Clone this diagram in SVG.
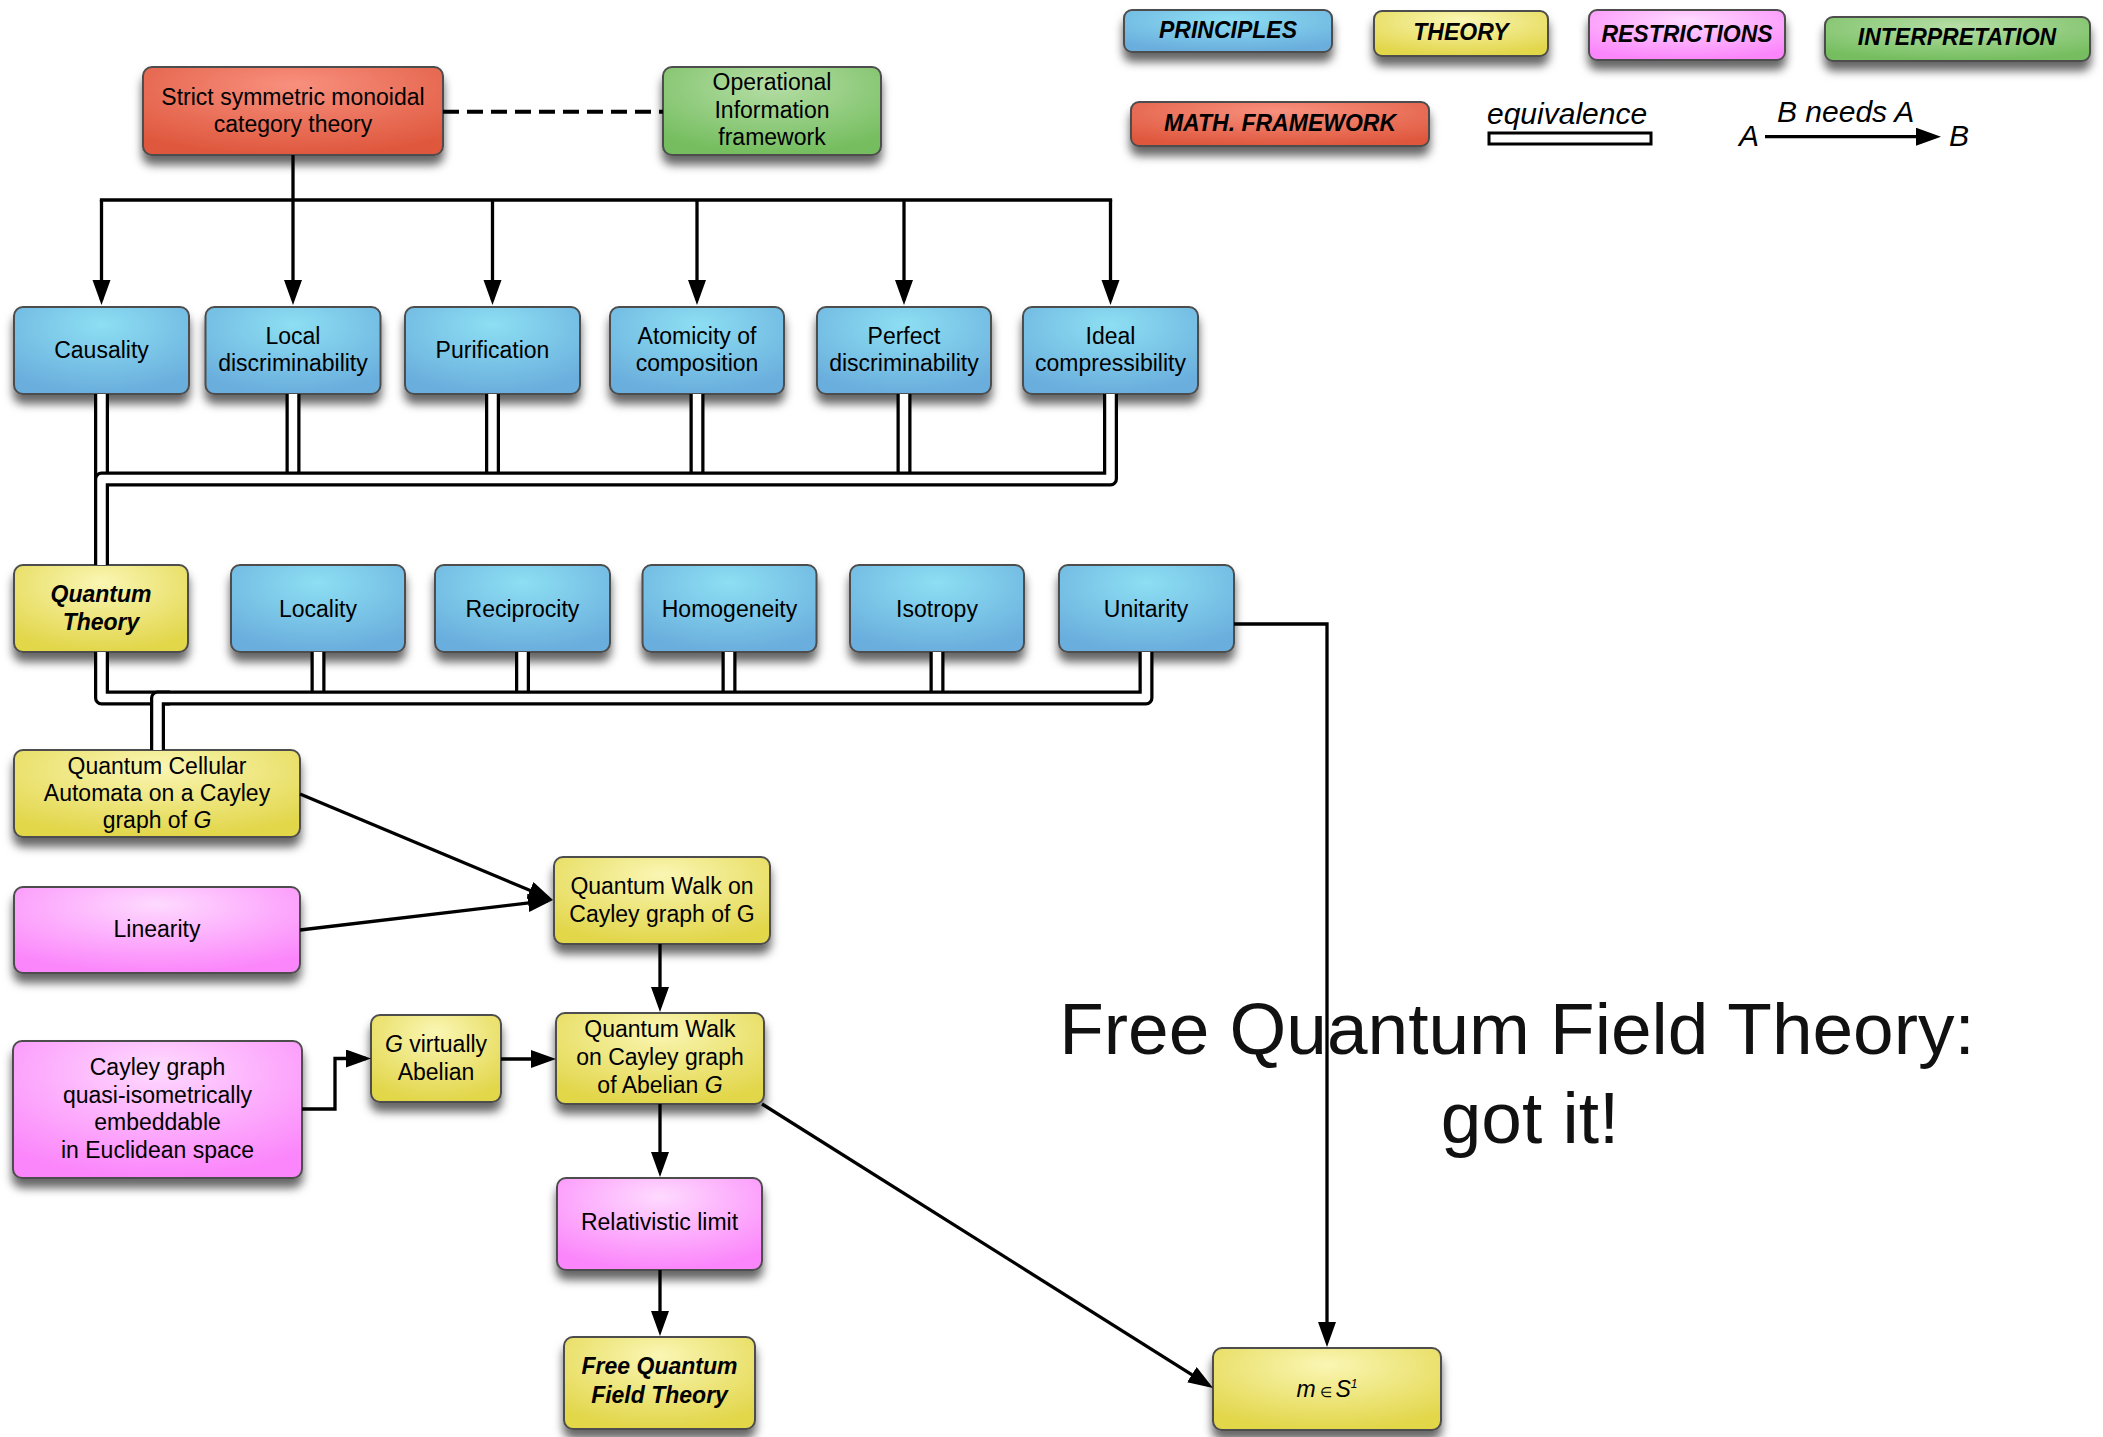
<svg xmlns="http://www.w3.org/2000/svg" xmlns:xlink="http://www.w3.org/1999/xlink" width="2103" height="1437" viewBox="0 0 2103 1437">
<defs>
  <radialGradient id="gBlue" cx="50%" cy="25%" r="75%" fx="50%" fy="20%"><stop offset="0" stop-color="#8ddff3"/><stop offset="1" stop-color="#6aaedd"/></radialGradient>
  <radialGradient id="gYel" cx="50%" cy="25%" r="75%" fx="50%" fy="20%"><stop offset="0" stop-color="#faf6b4"/><stop offset="1" stop-color="#e2d64a"/></radialGradient>
  <radialGradient id="gPink" cx="50%" cy="25%" r="75%" fx="50%" fy="20%"><stop offset="0" stop-color="#fedafe"/><stop offset="1" stop-color="#fb86fb"/></radialGradient>
  <radialGradient id="gRed" cx="50%" cy="25%" r="75%" fx="50%" fy="20%"><stop offset="0" stop-color="#f8907e"/><stop offset="1" stop-color="#df583e"/></radialGradient>
  <radialGradient id="gGreen" cx="50%" cy="25%" r="75%" fx="50%" fy="20%"><stop offset="0" stop-color="#b6dea6"/><stop offset="1" stop-color="#74bd5e"/></radialGradient>
  <filter id="sh" x="-20%" y="-30%" width="140%" height="180%">
    <feDropShadow dx="0" dy="9" stdDeviation="5" flood-color="#000" flood-opacity="0.6"/>
  </filter>
  <marker id="ah" markerUnits="userSpaceOnUse" markerWidth="26" markerHeight="20" refX="20" refY="9" orient="auto">
    <path d="M0,0 L25,9 L0,18 z" fill="#000"/>
  </marker>
  <path id="d1" d="M101.5,394 V479"/>
  <path id="d2" d="M293,394 V479"/>
  <path id="d3" d="M492.5,394 V479"/>
  <path id="d4" d="M697,394 V479"/>
  <path id="d5" d="M904,394 V479"/>
  <path id="d6" d="M1110.5,394 V479 H101.5 V565"/>
  <path id="d7" d="M318,652 V698"/>
  <path id="d8" d="M522.5,652 V698"/>
  <path id="d9" d="M729,652 V698"/>
  <path id="d10" d="M937,652 V698"/>
  <path id="d11" d="M101.5,652 V698 H170"/>
  <path id="d12" d="M1146,652 V698 H157.5 V750"/>
</defs>
<style>
  .box { stroke:#4d4d4d; stroke-width:2; filter:url(#sh); }
  .blue { fill:url(#gBlue); }
  .yel { fill:url(#gYel); }
  .pink { fill:url(#gPink); }
  .red { fill:url(#gRed); }
  .green { fill:url(#gGreen); }
  .t { font-family:"Liberation Sans", Arial, sans-serif; font-size:23px; fill:#000; text-anchor:middle; }
  .tb { font-family:"Liberation Sans", Arial, sans-serif; font-size:23px; font-weight:bold; font-style:italic; fill:#000; text-anchor:middle; }
  .lg { font-family:"Liberation Sans", Arial, sans-serif; font-size:30px; font-style:italic; fill:#000; }
  .big { font-family:"Liberation Sans", Arial, sans-serif; font-size:73px; fill:#111; text-anchor:middle; }
  .ar { fill:none; stroke:#000; stroke-width:3.3; marker-end:url(#ah); }
  .ln { fill:none; stroke:#000; stroke-width:3.3; }
  .eqo { fill:none; stroke:#000; stroke-width:15; stroke-linejoin:round; }
  .eqi { fill:none; stroke:#fff; stroke-width:8.5; stroke-linejoin:round; }
</style>
<rect width="2103" height="1437" fill="#fff"/>

<g id="legend">
  <g id="leg-principles"><rect class="box blue" x="1124" y="10" width="208" height="42" rx="8"/><text class="tb" x="1228" y="38">PRINCIPLES</text></g>
  <g id="leg-theory"><rect class="box yel" x="1374" y="11" width="174" height="45" rx="8"/><text class="tb" x="1461" y="40">THEORY</text></g>
  <g id="leg-restrictions"><rect class="box pink" x="1589" y="10" width="196" height="50" rx="8"/><text class="tb" x="1687" y="42">RESTRICTIONS</text></g>
  <g id="leg-interpretation"><rect class="box green" x="1825" y="17" width="265" height="44" rx="8"/><text class="tb" x="1957" y="45">INTERPRETATION</text></g>
  <g id="leg-math"><rect class="box red" x="1131" y="102" width="298" height="44" rx="8"/><text class="tb" x="1280" y="131">MATH. FRAMEWORK</text></g>
  <g id="leg-equivalence">
    <text class="lg" x="1487" y="124">equivalence</text>
    <rect x="1489" y="133" width="162" height="11" fill="#fff" stroke="#000" stroke-width="3"/>
  </g>
  <g id="leg-needs">
    <text class="lg" x="1777" y="122">B needs A</text>
    <text class="lg" x="1739" y="146">A</text>
    <text class="lg" x="1949" y="146">B</text>
    <path class="ar" d="M1765,136.7 H1936"/>
  </g>
</g>

<g id="nodes">
  <g id="strict"><rect class="box red" x="143" y="67" width="300" height="88" rx="9"/>
    <text class="t" x="293" y="104.5">Strict symmetric monoidal</text><text class="t" x="293" y="131.5">category theory</text></g>
  <g id="operational"><rect class="box green" x="663" y="67" width="218" height="88" rx="9"/>
    <text class="t" x="772" y="90">Operational</text><text class="t" x="772" y="117.5">Information</text><text class="t" x="772" y="145">framework</text></g>

  <g id="causality"><rect class="box blue" x="14" y="307" width="175" height="87" rx="9"/><text class="t" x="101.5" y="358">Causality</text></g>
  <g id="local-disc"><rect class="box blue" x="205.5" y="307" width="175" height="87" rx="9"/>
    <text class="t" x="293" y="343.5">Local</text><text class="t" x="293" y="371">discriminability</text></g>
  <g id="purification"><rect class="box blue" x="405" y="307" width="175" height="87" rx="9"/><text class="t" x="492.5" y="358">Purification</text></g>
  <g id="atomicity"><rect class="box blue" x="610" y="307" width="174" height="87" rx="9"/>
    <text class="t" x="697" y="343.5">Atomicity of</text><text class="t" x="697" y="371">composition</text></g>
  <g id="perfect-disc"><rect class="box blue" x="817" y="307" width="174" height="87" rx="9"/>
    <text class="t" x="904" y="343.5">Perfect</text><text class="t" x="904" y="371">discriminability</text></g>
  <g id="ideal-comp"><rect class="box blue" x="1023" y="307" width="175" height="87" rx="9"/>
    <text class="t" x="1110.5" y="343.5">Ideal</text><text class="t" x="1110.5" y="371">compressibility</text></g>

  <g id="quantum-theory"><rect class="box yel" x="14" y="565" width="174" height="87" rx="9"/>
    <text class="tb" x="101" y="602">Quantum</text><text class="tb" x="101" y="629.5">Theory</text></g>
  <g id="locality"><rect class="box blue" x="231" y="565" width="174" height="87" rx="9"/><text class="t" x="318" y="617">Locality</text></g>
  <g id="reciprocity"><rect class="box blue" x="435" y="565" width="175" height="87" rx="9"/><text class="t" x="522.5" y="617">Reciprocity</text></g>
  <g id="homogeneity"><rect class="box blue" x="642.5" y="565" width="174" height="87" rx="9"/><text class="t" x="729.5" y="617">Homogeneity</text></g>
  <g id="isotropy"><rect class="box blue" x="850" y="565" width="174" height="87" rx="9"/><text class="t" x="937" y="617">Isotropy</text></g>
  <g id="unitarity"><rect class="box blue" x="1059" y="565" width="175" height="87" rx="9"/><text class="t" x="1146" y="617">Unitarity</text></g>

  <g id="qca"><rect class="box yel" x="14" y="750" width="286" height="87" rx="9"/>
    <text class="t" x="157" y="774">Quantum Cellular</text><text class="t" x="157" y="801">Automata on a Cayley</text>
    <text class="t" x="157" y="828">graph of <tspan font-style="italic">G</tspan></text></g>
  <g id="linearity"><rect class="box pink" x="14" y="887" width="286" height="86" rx="9"/><text class="t" x="157" y="937">Linearity</text></g>
  <g id="qw-cayley"><rect class="box yel" x="554" y="857" width="216" height="87" rx="9"/>
    <text class="t" x="662" y="894">Quantum Walk on</text><text class="t" x="662" y="921.5">Cayley graph of G</text></g>
  <g id="cayley-embed"><rect class="box pink" x="13" y="1041" width="289" height="137" rx="9"/>
    <text class="t" x="157.5" y="1075">Cayley graph</text><text class="t" x="157.5" y="1102.5">quasi-isometrically</text>
    <text class="t" x="157.5" y="1130">embeddable</text><text class="t" x="157.5" y="1157.5">in Euclidean space</text></g>
  <g id="g-virt-abelian"><rect class="box yel" x="371" y="1015" width="130" height="87" rx="9"/>
    <text class="t" x="436" y="1052"><tspan font-style="italic">G</tspan> virtually</text><text class="t" x="436" y="1079.5">Abelian</text></g>
  <g id="qw-abelian"><rect class="box yel" x="556" y="1013" width="208" height="91" rx="9"/>
    <text class="t" x="660" y="1037">Quantum Walk</text><text class="t" x="660" y="1065">on Cayley graph</text>
    <text class="t" x="660" y="1093">of Abelian <tspan font-style="italic">G</tspan></text></g>
  <g id="relativistic"><rect class="box pink" x="557" y="1178" width="205" height="92" rx="9"/><text class="t" x="659.5" y="1230">Relativistic limit</text></g>
  <g id="fqft"><rect class="box yel" x="564" y="1337" width="191" height="92" rx="9"/>
    <text class="tb" x="659.5" y="1373.5">Free Quantum</text><text class="tb" x="659.5" y="1403">Field Theory</text></g>
  <g id="mass"><rect class="box yel" x="1213" y="1348" width="228" height="82" rx="9"/>
    <text class="t" x="1327" y="1397" font-size="20"><tspan font-style="italic">m</tspan><tspan font-size="14"> ∈ </tspan><tspan font-style="italic">S</tspan><tspan font-style="italic" font-size="12" dy="-9">1</tspan></text></g>
</g>

<g id="connectors">
  <path d="M443,111.7 H663" fill="none" stroke="#000" stroke-width="4" stroke-dasharray="16 8"/>
  <path class="ln" d="M101.5,200 H1110.5" stroke-linecap="square"/>
  <path class="ar" d="M293,155 V300"/>
  <path class="ar" d="M101.5,200 V300"/>
  <path class="ar" d="M492.5,200 V300"/>
  <path class="ar" d="M697,200 V300"/>
  <path class="ar" d="M904,200 V300"/>
  <path class="ar" d="M1110.5,200 V300"/>

  <use href="#d1" class="eqo"/><use href="#d1" class="eqi"/>
  <use href="#d2" class="eqo"/><use href="#d2" class="eqi"/>
  <use href="#d3" class="eqo"/><use href="#d3" class="eqi"/>
  <use href="#d4" class="eqo"/><use href="#d4" class="eqi"/>
  <use href="#d5" class="eqo"/><use href="#d5" class="eqi"/>
  <use href="#d6" class="eqo"/><use href="#d6" class="eqi"/>
  <use href="#d7" class="eqo"/><use href="#d7" class="eqi"/>
  <use href="#d8" class="eqo"/><use href="#d8" class="eqi"/>
  <use href="#d9" class="eqo"/><use href="#d9" class="eqi"/>
  <use href="#d10" class="eqo"/><use href="#d10" class="eqi"/>
  <use href="#d11" class="eqo"/><use href="#d11" class="eqi"/>
  <use href="#d12" class="eqo"/><use href="#d12" class="eqi"/>

  <path class="ar" d="M300,794 L548.4,898.1"/>
  <path class="ar" d="M300,930 L548,900.6"/>
  <path class="ar" d="M660,944 V1007"/>
  <path class="ar" d="M302,1109 H335 V1058.5 H366"/>
  <path class="ar" d="M501,1059 H551"/>
  <path class="ar" d="M660,1104 V1172"/>
  <path class="ar" d="M660,1270 V1331"/>
  <path class="ar" d="M762,1104 L1208.8,1385.3"/>
  <path class="ar" d="M1234,624 H1327 V1342" stroke-width="2.5"/>
</g>

<g id="title">
  <text class="big" x="1517" y="1054">Free Quantum Field Theory:</text>
  <text class="big" x="1530" y="1143">got it!</text>
</g>
</svg>
